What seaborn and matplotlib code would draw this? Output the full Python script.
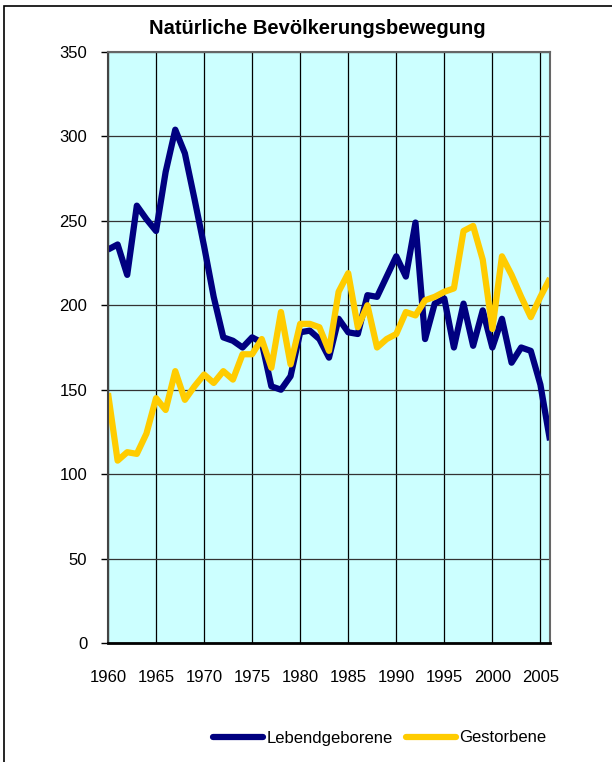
import numpy as np
import pandas as pd
import matplotlib
matplotlib.use("Agg")
import matplotlib.pyplot as plt
from matplotlib.patches import Rectangle
import seaborn as sns

# ---- data ----
years = list(range(1960, 2007))
lebendgeborene = [233, 236, 218, 259, 251, 244, 279, 304, 290, 263,
                  235, 205, 181, 179, 175, 181, 178, 152, 150, 158,
                  184, 185, 180, 169, 192, 184, 183, 206, 205, 217,
                  229, 217, 249, 180, 201, 204, 175, 201, 176, 197,
                  175, 192, 166, 175, 173, 153, 120]
gestorbene = [148, 108, 113, 112, 124, 145, 138, 161, 144, 152,
              159, 154, 161, 156, 171, 171, 180, 163, 196, 165,
              189, 189, 187, 173, 208, 219, 187, 200, 175, 180,
              183, 196, 194, 203, 205, 208, 210, 244, 247, 227,
              186, 229, 218, 205, 193, 205, 216]
x_ticks = [1960, 1965, 1970, 1975, 1980, 1985, 1990, 1995, 2000, 2005]
y_ticks = [0, 50, 100, 150, 200, 250, 300, 350]

df = pd.DataFrame({
    "Jahr": years * 2,
    "Wert": lebendgeborene + gestorbene,
    "Serie": ["Lebendgeborene"] * len(years) + ["Gestorbene"] * len(years),
})

sns.set_style("white")
plt.rcParams["font.family"] = ["Liberation Sans", "DejaVu Sans"]
plt.rcParams["text.color"] = "black"
plt.rcParams["xtick.color"] = "black"
plt.rcParams["ytick.color"] = "black"

fig = plt.figure(figsize=(6.12, 7.62), dpi=100)
ax = fig.add_axes([108 / 612, 1 - 643 / 762, 442 / 612, 591 / 762])
ax.set_facecolor("#CCFFFF")

sns.lineplot(data=df, x="Jahr", y="Wert", hue="Serie", ax=ax,
             palette={"Lebendgeborene": "#000080", "Gestorbene": "#FFCC00"},
             linewidth=4.5, legend=False, sort=False)
for ln in ax.lines:
    ln.set_solid_joinstyle("round")
    ln.set_solid_capstyle("butt")

ax.set_xlim(1960, 2006)
ax.set_ylim(0, 350)
ax.set_xticks(x_ticks)
ax.set_yticks(y_ticks)
ax.set_xlabel("")
ax.set_ylabel("")
ax.grid(True, axis="x", color="black", linewidth=0.9)
ax.grid(True, axis="y", color="#333333", linewidth=0.9)
ax.set_axisbelow(True)
ax.tick_params(axis="y", left=True, length=5, width=1, color="black",
               labelsize=12, pad=10, labelcolor="black")
ax.tick_params(axis="x", bottom=False, labelsize=12, pad=16, labelcolor="black")

for side in ["top", "right"]:
    ax.spines[side].set_color("#666666")
    ax.spines[side].set_linewidth(1.5)
ax.spines["left"].set_color("#444444")
ax.spines["left"].set_linewidth(1.5)
ax.spines["bottom"].set_color("black")
ax.spines["bottom"].set_linewidth(2)

fig.text(317 / 612, 1 - 28 / 762, "Natürliche Bevölkerungsbewegung",
         ha="center", va="center", fontsize=14.5, fontweight="bold",
         color="black")

handles = [plt.Line2D([], [], color="#000080", lw=4.5, solid_capstyle="round"),
           plt.Line2D([], [], color="#FFCC00", lw=4.5, solid_capstyle="round")]
fig.legend(handles, ["Lebendgeborene", "Gestorbene"], ncol=2,
           loc="center", bbox_to_anchor=(380 / 612, 1 - 738 / 762),
           frameon=False, fontsize=12, handlelength=3.0,
           handletextpad=0.2, columnspacing=0.8)

# outer chart frame (only the top and left edges fall inside the picture)
fig.patches.append(Rectangle((4 / 612, -0.1), 2, 1 - 6 / 762 + 0.1,
                             transform=fig.transFigure, fill=False,
                             edgecolor="black", linewidth=1.2))

fig.savefig("out.png", dpi=100)
